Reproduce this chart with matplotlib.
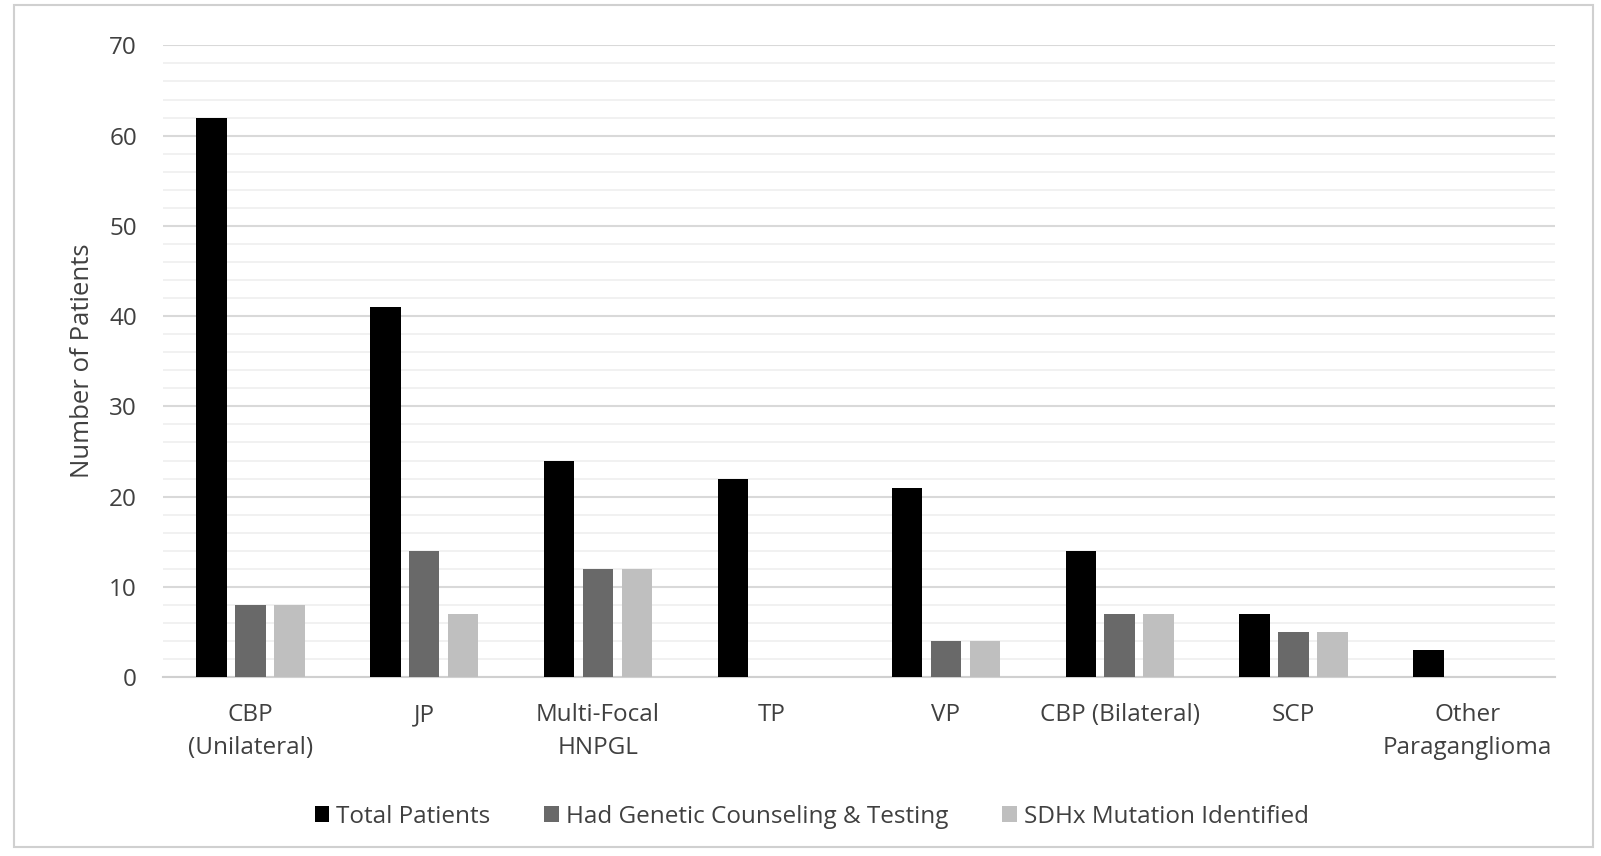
import matplotlib.pyplot as plt
import numpy as np
from matplotlib.patches import Rectangle

categories = ['CBP\n(Unilateral)', 'JP', 'Multi-Focal\nHNPGL', 'TP', 'VP',
              'CBP (Bilateral)', 'SCP', 'Other\nParaganglioma']
total_patients = [62, 41, 24, 22, 21, 14, 7, 3]
genetic_testing = [8, 14, 12, 0, 4, 7, 5, 0]
sdhx_mutation = [8, 7, 12, 0, 4, 7, 5, 0]

series = [
    ('Total Patients', total_patients, '#000000'),
    ('Had Genetic Counseling & Testing', genetic_testing, '#696969'),
    ('SDHx Mutation Identified', sdhx_mutation, '#bfbfbf'),
]

plt.rcParams['font.family'] = ['Open Sans', 'DejaVu Sans']

fig = plt.figure(figsize=(16.01, 8.56), dpi=100)
ax = fig.add_axes([0.102, 0.209, 0.869, 0.738])

# outer chart frame
fig.patches.append(Rectangle((0.009, 0.01), 0.986, 0.984, transform=fig.transFigure,
                             fill=False, edgecolor='#d0d0d0', linewidth=1.5))

x = np.arange(len(categories))
width = 0.176
step = 0.224
for i, (name, vals, color) in enumerate(series):
    ax.bar(x + (i - 1) * step, vals, width, color=color, label=name, zorder=3)

ax.set_xlim(-0.5, len(categories) - 0.5)
ax.set_ylim(0, 70)
ax.set_yticks(np.arange(0, 71, 10))
ax.set_yticks(np.arange(0, 71, 2), minor=True)
ax.grid(axis='y', which='major', color='#d9d9d9', linewidth=1.5, zorder=0)
ax.grid(axis='y', which='minor', color='#efefef', linewidth=1.2, zorder=0)
ax.tick_params(axis='y', which='both', length=0, pad=19, labelsize=17.5, labelcolor='#404040')
ax.tick_params(axis='x', length=0, pad=19, labelsize=17.5, labelcolor='#404040')
ax.set_xticks(x)
ax.set_xticklabels(categories, linespacing=1.5)

for side in ['top', 'right', 'left']:
    ax.spines[side].set_visible(False)
ax.spines['bottom'].set_color('#d0d0d0')
ax.spines['bottom'].set_linewidth(1.5)

ax.set_ylabel('Number of Patients', fontsize=18.5, color='#404040')
ax.yaxis.set_label_coords(-0.049, 0.5)

fig.legend(loc='center', bbox_to_anchor=(0.507, 0.046), ncol=3, frameon=False,
           fontsize=17.5, labelcolor='#404040', handlelength=0.6, handleheight=0.6,
           handletextpad=0.3, columnspacing=2.2)

fig.savefig('out.png', dpi=100)
